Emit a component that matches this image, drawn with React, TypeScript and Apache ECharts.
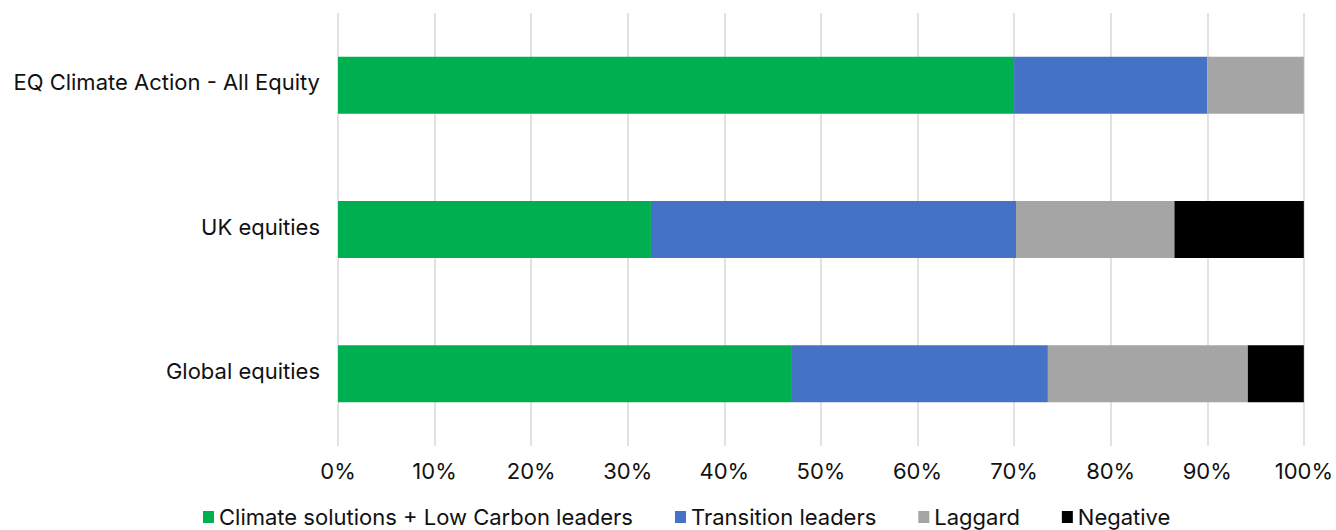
import React, { useEffect, useRef } from "react";
import * as echarts from "echarts";

// Portfolio categories, top to bottom
const categories = ["EQ Climate Action - All Equity", "UK equities", "Global equities"];

// Share of each portfolio (percent) by climate classification
const climateSolutions = [70, 32.4, 47.0];
const transitionLeaders = [20, 37.8, 26.5];
const laggard = [10, 16.4, 20.7];
const negative = [0, 13.4, 5.8];

const seriesNames = [
  "Climate solutions + Low Carbon leaders",
  "Transition leaders",
  "Laggard",
  "Negative",
];
const seriesColors = ["#00B050", "#4472C4", "#A5A5A5", "#000000"];

const FONT = "Inter, 'Open Sans', sans-serif";

export default function App() {
  const ref = useRef<HTMLDivElement>(null);

  useEffect(() => {
    if (!ref.current) return;
    const chart = echarts.init(ref.current, undefined, { renderer: "svg" });
    const values = [climateSolutions, transitionLeaders, laggard, negative];

    chart.setOption({
      animation: false,
      backgroundColor: "#ffffff",
      textStyle: { fontFamily: FONT },
      grid: { left: 338, right: 31, top: 13, bottom: 84, containLabel: false },
      legend: {
        top: 501,
        left: 198,
        itemWidth: 11,
        itemHeight: 12,
        itemGap: 42,
        icon: "rect",
        textStyle: { fontSize: 22, color: "#111111", fontFamily: FONT },
        data: seriesNames,
      },
      xAxis: {
        type: "value",
        min: 0,
        max: 100,
        interval: 10,
        axisLine: { show: false },
        axisTick: { show: false },
        splitLine: { show: true, lineStyle: { color: "#d9d9d9", width: 1.5 } },
        axisLabel: {
          formatter: (v: number) => `${v}%`,
          fontSize: 22,
          color: "#111111",
          margin: 14,
          fontFamily: FONT,
        },
      },
      yAxis: {
        type: "category",
        inverse: true,
        data: categories,
        axisLine: { show: false },
        axisTick: { show: false },
        axisLabel: {
          fontSize: 22,
          color: "#111111",
          margin: 18,
          fontFamily: FONT,
          verticalAlign: "bottom",
          lineHeight: 6,
        },
      },
      series: seriesNames.map((name, i) => ({
        name,
        type: "bar",
        stack: "total",
        barWidth: 57,
        itemStyle: { color: seriesColors[i] },
        data: values[i],
      })),
    });

    return () => chart.dispose();
  }, []);

  return (
    <div
      ref={ref}
      style={{ position: "fixed", left: 0, top: 0, width: 1336, height: 530 }}
    />
  );
}
